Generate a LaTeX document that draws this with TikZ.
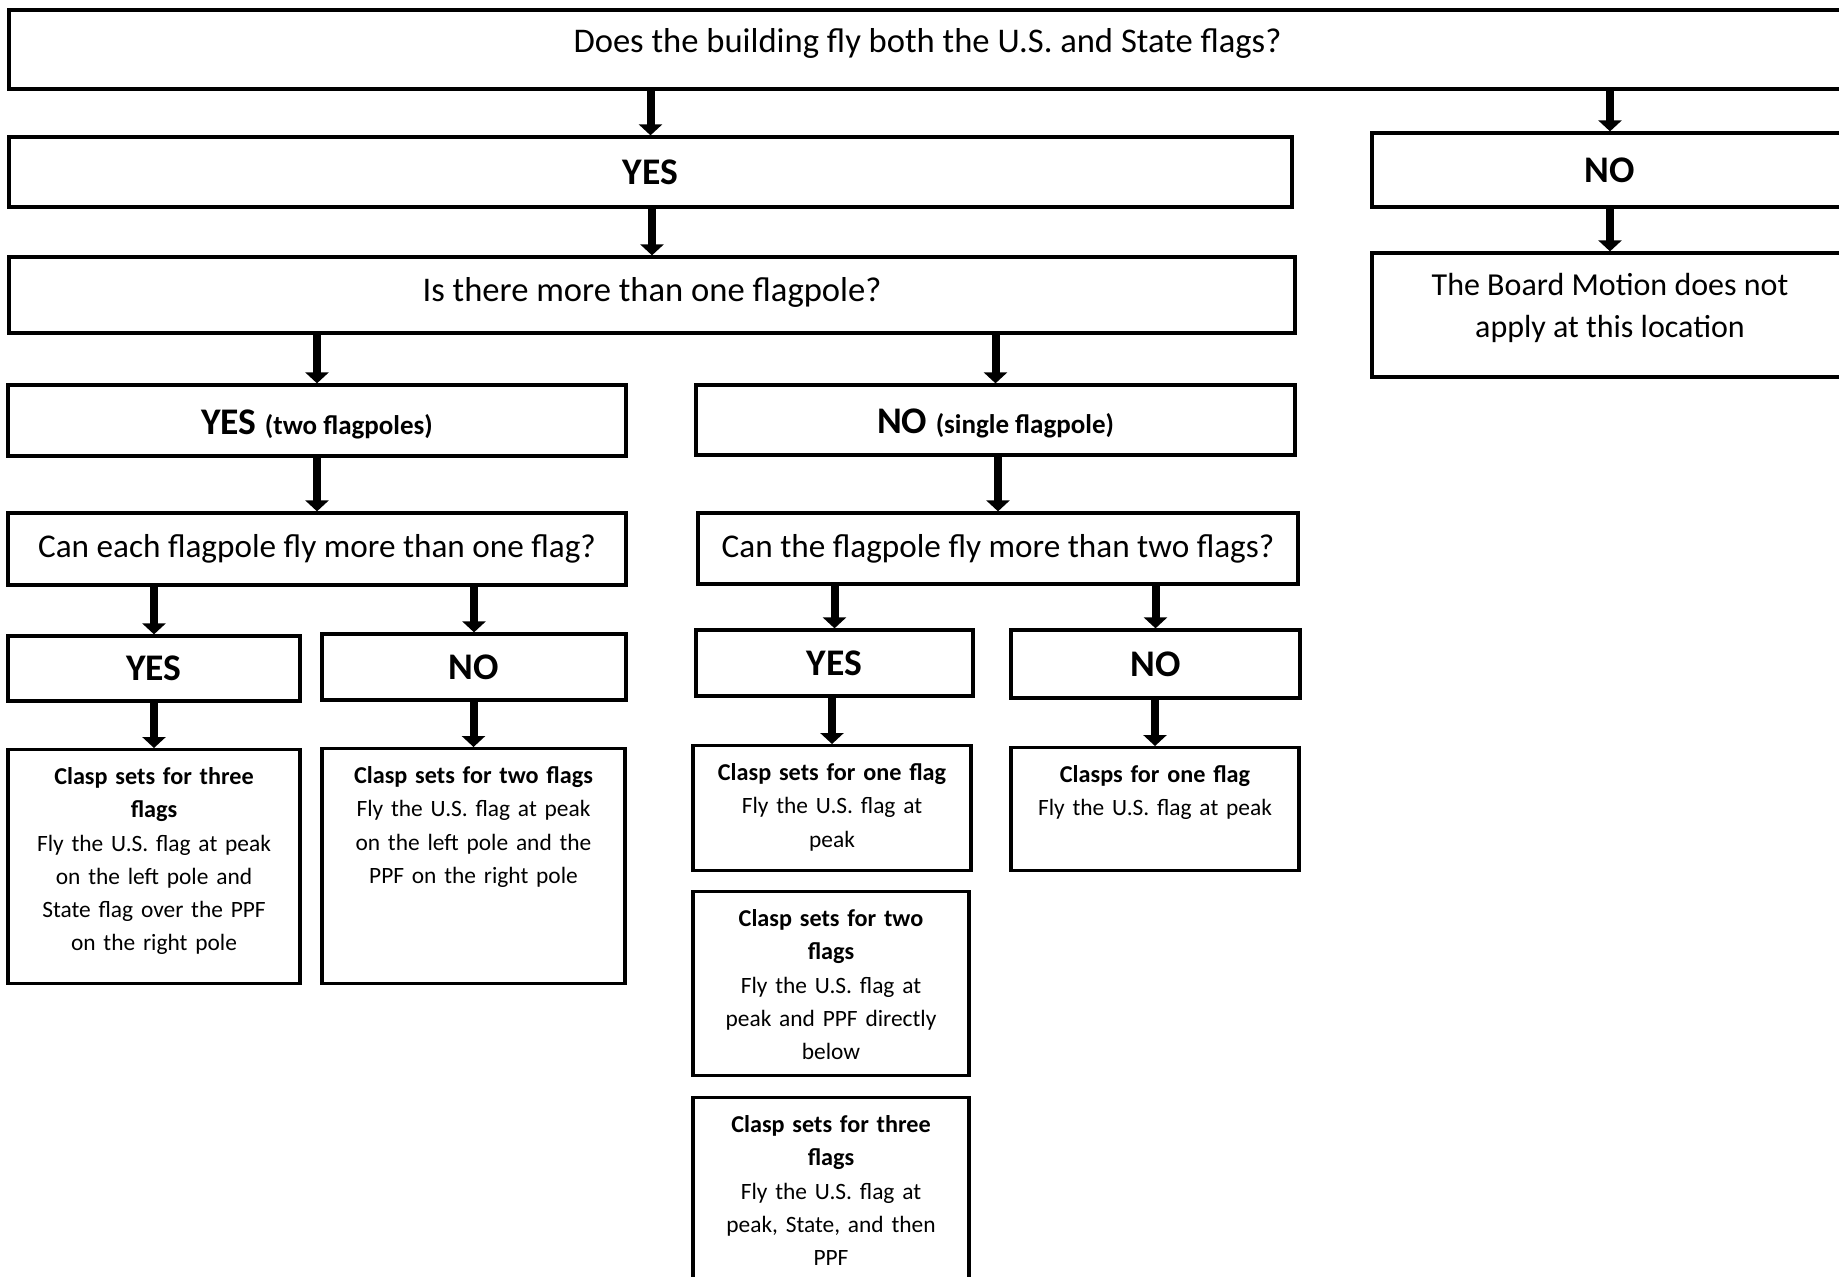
\documentclass[tikz,border=0pt]{standalone}
\usepackage{fontspec}
\setmainfont{Carlito}
\usetikzlibrary{arrows.meta}
\newcommand{\bigfont}{\fontsize{17.3}{20.5}\selectfont}
\newcommand{\askfont}{\fontsize{16.6}{20}\selectfont}
\newcommand{\motionfont}{\fontsize{16}{21}\selectfont}
\newcommand{\answerfont}{\fontsize{18.8}{22}\selectfont\bfseries}
\newcommand{\leaffont}{\fontsize{11.7}{16.6}\selectfont}
\newcommand{\leafbold}[1]{{\fontsize{12.1}{16.6}\selectfont\bfseries #1}}
\newcommand{\notefont}{\fontsize{13.5}{16}\selectfont\bfseries}
\tikzset{
    flownode/.style={draw,line width=1.65pt,inner sep=0pt,align=center,font=\bigfont},
    answernode/.style={flownode,font=\answerfont},
    leafnode/.style={flownode,anchor=north,inner xsep=2pt,inner ysep=7.5pt,text height=10pt,text depth=#1,font=\leaffont},
    flowarrow/.style={draw,line width=4pt,-{Triangle[width=11.5pt,length=5.5pt]}}
}

\begin{document}
\begin{tikzpicture}[x=0.5pt,y=-0.5pt]
				\path[use as bounding box,fill=white] (0,0) rectangle (1839,1276);
				
				% questions and answers
				\node[flownode,minimum width=918.5pt,minimum height=39.5pt,text depth=9pt] (Q1) at (927.5,49.5) {Does the building fly both the U.S. and State flags?};
				\node[answernode,minimum width=641.5pt,minimum height=35pt] (Y1) at (650.5,172) {YES};
				\node[answernode,minimum width=238pt,minimum height=37pt] (N1) at (1610,170) {NO};
				\node[flownode,font=\motionfont,minimum width=238pt,minimum height=62pt,text depth=9.5pt] (BM) at (1610,315) {The Board Motion does not\\apply at this location};
				\node[flownode,minimum width=643pt,minimum height=38pt,text depth=6pt] (Q2) at (652,295) {Is there more than one flagpole?};
				\node[answernode,minimum width=309pt,minimum height=35.5pt,text height=16pt] (Y2) at (317,420.5) {YES {\notefont(two flagpoles)}};
				\node[answernode,minimum width=299.5pt,minimum height=35pt,text height=16pt] (N2) at (995.5,420) {NO {\notefont(single flagpole)}};
				\node[flownode,font=\askfont,minimum width=309pt,minimum height=36pt] (Q3a) at (317,549) {Can each flagpole fly more than one flag?};
				\node[flownode,font=\askfont,minimum width=300pt,minimum height=35.5pt] (Q3b) at (998,548.5) {Can the flagpole fly more than two flags?};
				\node[answernode,minimum width=146pt,minimum height=32.5pt] (Y3a) at (154,668.5) {YES};
				\node[answernode,minimum width=152pt,minimum height=33pt] (N3a) at (474,667) {NO};
				\node[answernode,minimum width=138.5pt,minimum height=33pt] (Y3b) at (834.5,663) {YES};
				\node[answernode,minimum width=144.5pt,minimum height=34pt] (N3b) at (1155.5,664) {NO};
				
				% clasp sets
				\node[leafnode=92pt,text width=142pt] (C3a) at (154,748) {\leafbold{Clasp sets for three}\\\leafbold{flags}\\Fly the U.S. flag at peak\\on the left pole and\\State flag over the PPF\\on the right pole};
				\node[leafnode=92.5pt,text width=147.5pt] (C2a) at (473.5,747) {\leafbold{Clasp sets for two flags}\\Fly the U.S. flag at peak\\on the left pole and the\\PPF on the right pole};
				\node[leafnode=37.5pt,text width=135pt] (C1b) at (832,744) {\leafbold{Clasp sets for one flag}\\Fly the U.S. flag at\\peak};
				\node[leafnode=36.5pt,text width=140pt] (C1n) at (1155,746) {\leafbold{Clasps for one flag}\\Fly the U.S. flag at peak};
				\node[leafnode=67pt,text width=134pt] (C2b) at (831,890) {\leafbold{Clasp sets for two}\\\leafbold{flags}\\Fly the U.S. flag at\\peak and PPF directly\\below};
				\node[leafnode=67pt,text width=134pt] (C3b) at (831,1096) {\leafbold{Clasp sets for three}\\\leafbold{flags}\\Fly the U.S. flag at\\peak, State, and then\\PPF};
				
				\path
				(Y1.north |- Q1.south) edge[flowarrow] (Y1)
				(N1.north |- Q1.south) edge[flowarrow] (N1)
				(N1) edge[flowarrow] (BM)
				(Q2.north |- Y1.south) edge[flowarrow] (Q2)
				(Y2.north |- Q2.south) edge[flowarrow] (Y2)
				(N2.north |- Q2.south) edge[flowarrow] (N2)
				(Y2) edge[flowarrow] (Q3a)
				(Q3b.north |- N2.south) edge[flowarrow] (Q3b)
				(Y3a.north |- Q3a.south) edge[flowarrow] (Y3a)
				(N3a.north |- Q3a.south) edge[flowarrow] (N3a)
				(Y3b.north |- Q3b.south) edge[flowarrow] (Y3b)
				(N3b.north |- Q3b.south) edge[flowarrow] (N3b)
				(Y3a) edge[flowarrow] (C3a)
				(C2a.north |- N3a.south) edge[flowarrow] (C2a)
				(C1b.north |- Y3b.south) edge[flowarrow] (C1b)
				(C1n.north |- N3b.south) edge[flowarrow] (C1n);
			\end{tikzpicture}
\end{document}
